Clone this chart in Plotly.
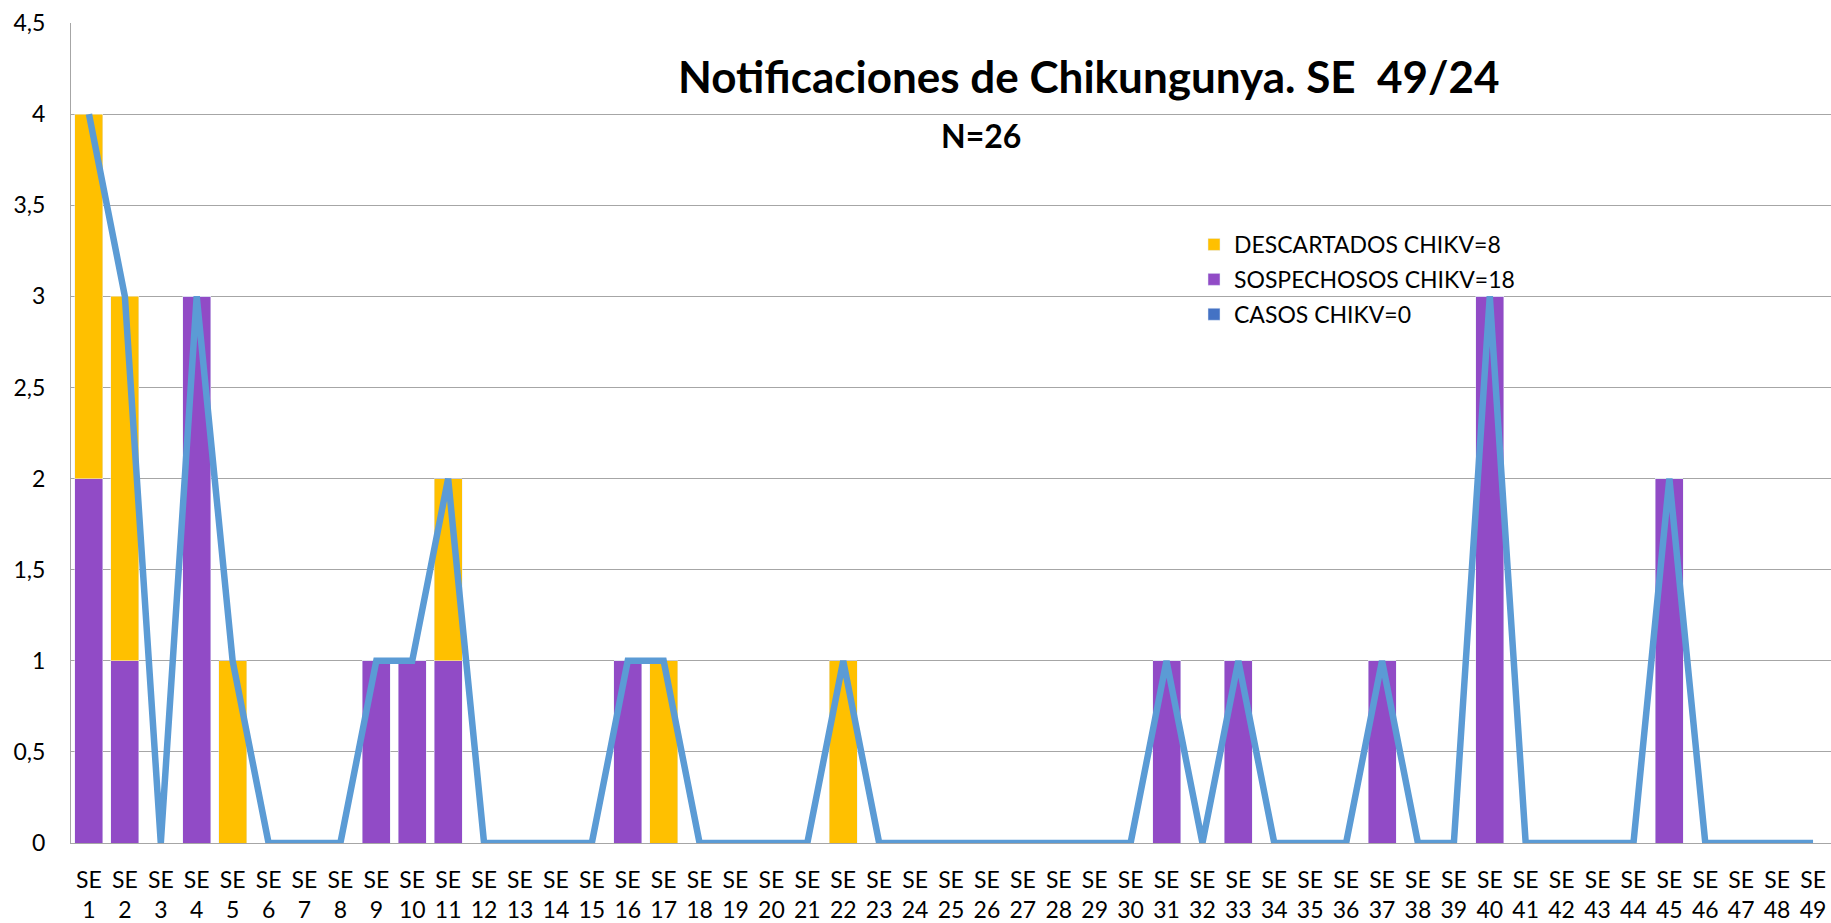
import plotly.graph_objects as go

weeks = [f"SE<br>{i}" for i in range(1, 50)]
sospechosos = [2,1,0,3,0,0,0,0,1,1,1,0,0,0,0,1,0,0,0,0,0,0,0,0,0,0,0,0,0,0,1,0,1,0,0,0,1,0,0,3,0,0,0,0,2,0,0,0,0]
descartados = [2,2,0,0,1,0,0,0,0,0,1,0,0,0,0,0,1,0,0,0,0,1,0,0,0,0,0,0,0,0,0,0,0,0,0,0,0,0,0,0,0,0,0,0,0,0,0,0,0]
casos = [0]*49
total = [s + d + c for s, d, c in zip(sospechosos, descartados, casos)]

FONT = "Lato"

# plot area at page x 71..1831, y 23..843 (body margin removed below)
PL, PT, PB = 71, 23, 843
PW = 1831 - PL
PH = PB - PT


def px(x):
    return (x - PL) / PW


def py(y):
    return (PB - y) / PH


fig = go.Figure()
fig.add_trace(go.Bar(x=weeks, y=casos, name="CASOS CHIKV=0", marker_color="#4472C4",
                     legendgroup="c", legendrank=3))
fig.add_trace(go.Bar(x=weeks, y=sospechosos, name="SOSPECHOSOS CHIKV=18", marker_color="#914BC6",
                     legendgroup="s", legendrank=2))
fig.add_trace(go.Bar(x=weeks, y=descartados, name="DESCARTADOS CHIKV=8", marker_color="#FFC000",
                     legendgroup="d", legendrank=1))
fig.add_trace(go.Scatter(x=weeks, y=total, mode="lines", line=dict(color="#5B9BD5", width=6.5),
                         showlegend=False, hoverinfo="skip"))

fig.update_layout(
    width=1831, height=923,
    barmode="stack", bargap=0.22,
    separators=",.",
    paper_bgcolor="white", plot_bgcolor="white",
    margin=dict(l=PL, r=0, t=PT, b=923 - PB, autoexpand=False),
    font=dict(family=FONT, size=23, color="black"),
    legend=dict(x=px(1194), y=py(223), xanchor="left", yanchor="top", traceorder="grouped",
                tracegroupgap=2, font=dict(size=23), bgcolor="rgba(0,0,0,0)", itemwidth=30),
    annotations=[
        dict(text="<b>Notificaciones de Chikungunya. SE  49/24</b>", x=px(1089), y=py(76),
             xref="paper", yref="paper", xanchor="center", yanchor="middle",
             showarrow=False, font=dict(size=44, family=FONT)),
        dict(text="<b>N=26</b>", x=px(981), y=py(135), xref="paper", yref="paper",
             xanchor="center", yanchor="middle",
             showarrow=False, font=dict(size=32, family=FONT)),
    ],
    showlegend=True,
)

fig.update_yaxes(range=[0, 4.5], dtick=0.5, tick0=0, showgrid=True, gridcolor="#A6A6A6", gridwidth=1,
                 showline=True, linecolor="#A6A6A6", linewidth=1, zeroline=False,
                 ticks="", ticklabelstandoff=20, tickfont=dict(size=23))
fig.update_xaxes(showgrid=False, showline=True, linecolor="#A6A6A6", linewidth=1,
                 ticks="", tickangle=0, ticklabelstandoff=16, tickfont=dict(size=23))

fig.write_html("out.html", config={"displayModeBar": False},
               post_script="document.body.style.margin='0';document.body.style.overflow='hidden';")
